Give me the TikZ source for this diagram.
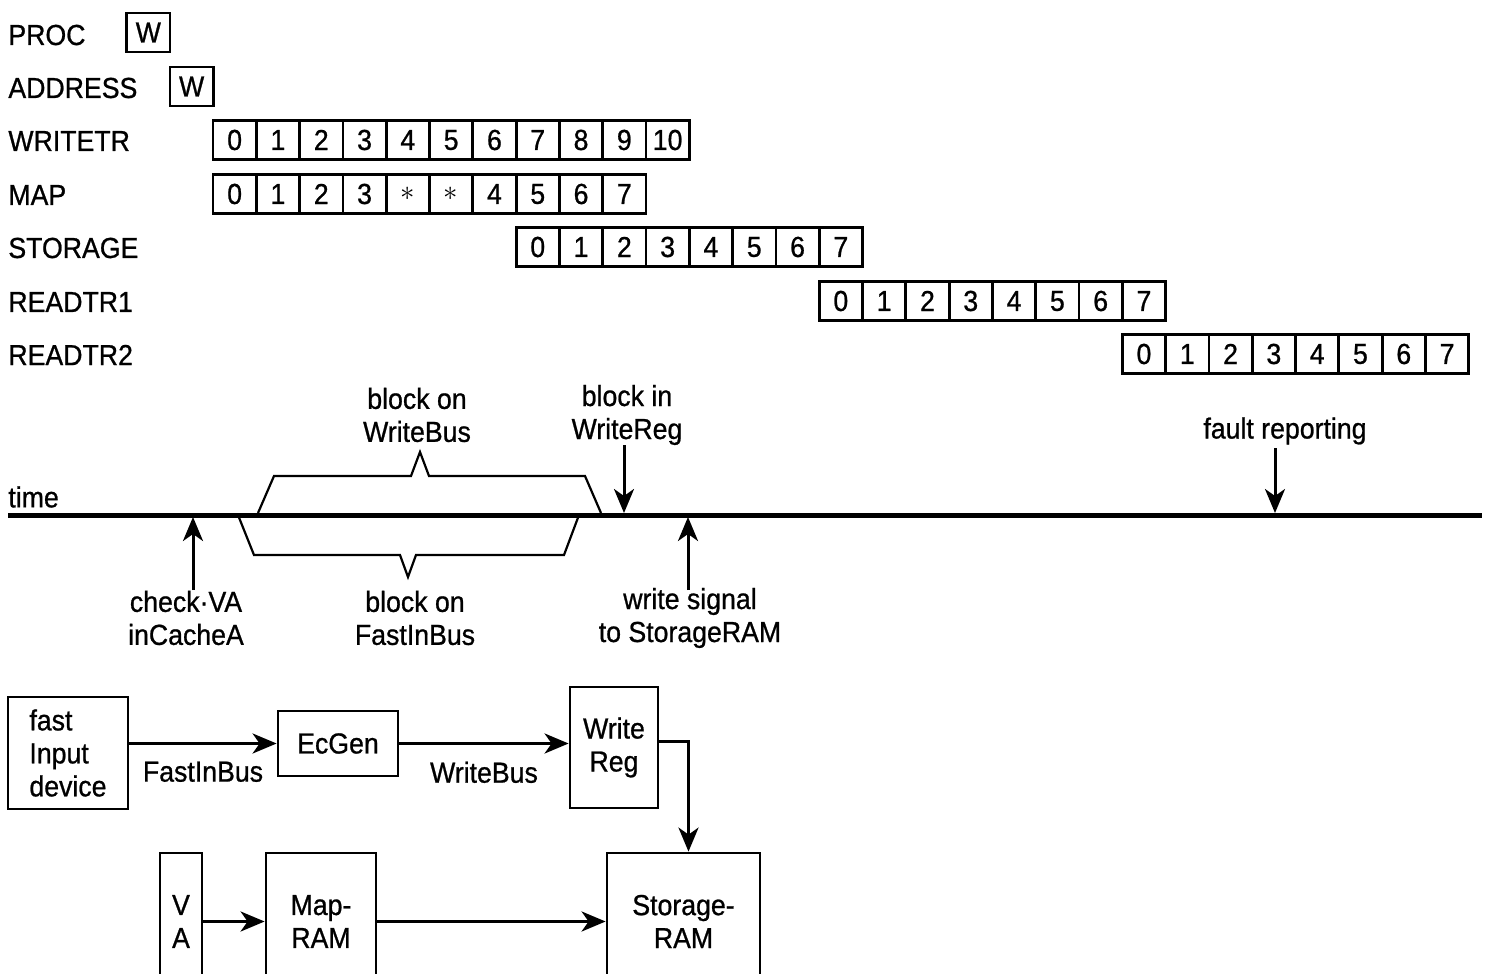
\documentclass[tikz,border=0pt]{standalone}
\usepackage{fontspec}
\setmainfont{Liberation Sans}[FakeStretch=0.92, FakeBold=0.8]
\usetikzlibrary{arrows.meta,positioning,calc}

\begin{document}
\begin{tikzpicture}[x=0.5pt, y=-0.5pt,
  font=\fontsize{14.5}{16.5}\selectfont,
  cell/.style={draw, line width=1.4pt, minimum width=21.65pt, minimum height=19.5pt, inner sep=0pt},
  rowlab/.style={anchor=west, inner sep=0pt},
  blk/.style={draw, line width=1.4pt, align=center, inner sep=0pt},
  arr/.style={-{Stealth[length=12pt, width=10pt, inset=3.5pt]}, line width=1.5pt},
  note/.style={align=center, inner sep=0pt},
  brace/.style={line width=1.1pt, line join=miter}
]
\useasboundingbox (0,0) rectangle (1489,974);

% pipeline rows
\node[rowlab] (lproc) at (8,35) {PROC};
\node[rowlab] (laddr) at (8,88) {ADDRESS};
\node[rowlab] (lwtr) at (8,141) {WRITETR};
\node[rowlab] (lmap) at (8,195) {MAP};
\node[rowlab] (lsto) at (8,248) {STORAGE};
\node[rowlab] (lrd1) at (8,302) {READTR1};
\node[rowlab] (lrd2) at (8,355) {READTR2};

\node[cell] (pw) at (148.35,32.5) {W};
\node[cell] (aw) at (191.65,86.5) {W};
\foreach \d [count=\k from 0] in {0,...,10}
  \node[cell] (w\k) at ({234.65+\k*43.3},140) {\d};
\foreach \d [count=\k from 0] in {0,1,2,3,{$\ast$},{$\ast$},4,5,6,7}
  \node[cell] (m\k) at ({234.65+\k*43.3},194) {\d};
\foreach \d [count=\k from 0] in {0,...,7}
  \node[cell] (s\k) at ({234.65+(7+\k)*43.3},247) {\d};
\foreach \d [count=\k from 0] in {0,...,7}
  \node[cell] (ra\k) at ({234.65+(14+\k)*43.3},301) {\d};
\foreach \d [count=\k from 0] in {0,...,7}
  \node[cell] (rb\k) at ({234.65+(21+\k)*43.3},354) {\d};

% time line
\node[rowlab] (time) at (8,497) {time};
\coordinate (tl) at (8,515);
\coordinate (tr) at (1482,515);
\draw[line width=2.5pt] (tl) -- (tr);

\draw[brace] (258,513) -- (274,476) -- (411,476) -- (420,452) -- (429,476) -- (585,476) -- (601,513);
\draw[brace] (238,515) -- (254,555) -- (400,555) -- (408,577) -- (416,555) -- (564,555) -- (579,515);

\node[note] (wbus) at (417,415) {block on\\WriteBus};
\node[note] (wreg) at (627,415) {block in\\WriteReg};
\node[note] (fault) at (1285,431) {fault reporting};
\node[note] (chk) at (186,618) {check·VA\\inCacheA};
\node[note] (fbus) at (415,618) {block on\\FastInBus};
\node[note] (wsig) at (690,618) {write signal\\to StorageRAM};

\coordinate (pchk) at (193,517);
\coordinate (pchk0) at (193,590);
\coordinate (preg0) at (624,445);
\coordinate (preg) at (624,513);
\coordinate (psig0) at (688,590);
\coordinate (psig) at (688,517);
\coordinate (pflt0) at (1275,448);
\coordinate (pflt) at (1275,513);
\draw[arr] (pchk0) -- (pchk);
\draw[arr] (preg0) -- (preg);
\draw[arr] (psig0) -- (psig);
\draw[arr] (pflt0) -- (pflt);

% block diagram
\node[blk, minimum width=60pt, minimum height=56pt, align=left] (fid) at (68,753) {fast\\Input\\device};
\node[blk, minimum width=60pt, minimum height=32.5pt] (ecgen) at (338,743.5) {EcGen};
\node[blk, minimum width=44pt, minimum height=60.5pt] (wrg) at (614,747.5) {Write\\Reg};
\node[blk, minimum width=21pt, minimum height=68.5pt] (va) at (181,921.5) {V\\A};
\node[blk, minimum width=55pt, minimum height=68.5pt] (mram) at (321,921.5) {Map-\\RAM};
\node[blk, minimum width=76.5pt, minimum height=68.5pt] (sram) at (683.5,921.5) {Storage-\\RAM};

\draw[arr] (ecgen.west -| fid.east) -- node[below=5pt] {FastInBus} (ecgen.west);
\draw[arr] (ecgen.east) -- node[below=5pt] {WriteBus} (ecgen.east -| wrg.west);
\draw[arr] ([yshift=3pt]wrg.east) -| ([xshift=2.5pt]sram.north);
\draw[arr] (va) -- (mram);
\draw[arr] (mram) -- (sram);

\end{tikzpicture}
\end{document}
